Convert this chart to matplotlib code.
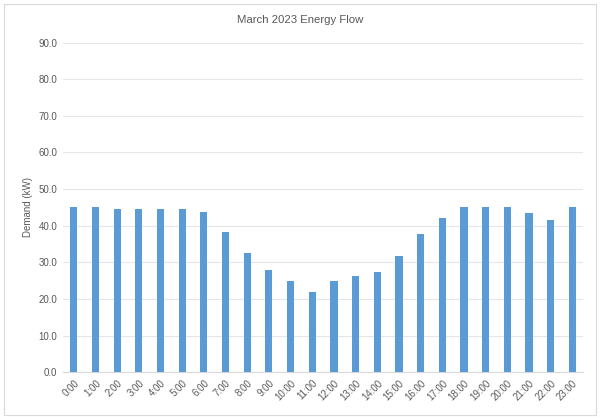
import matplotlib
matplotlib.use("Agg")
import matplotlib.pyplot as plt
from matplotlib.patches import Rectangle

hours = [f"{h}:00" for h in range(24)]
demand = [45.0, 45.0, 44.7, 44.7, 44.7, 44.7, 43.7, 38.3, 32.5, 28.0, 24.9, 21.9,
          24.9, 26.4, 27.4, 31.7, 37.7, 42.2, 45.2, 45.2, 45.2, 43.6, 41.6, 45.2]
yticks = [0, 10, 20, 30, 40, 50, 60, 70, 80, 90]

plt.rcParams['font.family'] = ['Liberation Sans', 'DejaVu Sans']
txt = '#595959'

fig = plt.figure(figsize=(6, 4.17), dpi=100)
fig.patches.append(Rectangle((0.007, 0.005), 0.986, 0.985, transform=fig.transFigure,
                             fill=False, edgecolor='#d9d9d9', linewidth=0.8))
ax = fig.add_axes([0.105, 0.107, 0.867, 0.791])
x = list(range(len(hours)))
ax.bar(x, demand, width=0.33, color='#5B9BD5', zorder=3)
ax.set_xlim(-0.5, len(hours) - 0.5)
ax.set_ylim(0, 90)
ax.set_yticks(yticks)
ax.set_yticklabels([f"{v:.1f}" for v in yticks], fontsize=7, color=txt)
ax.set_xticks(x)
ax.set_xticklabels(hours, rotation=45, ha='right', rotation_mode='anchor', fontsize=7, color=txt)
ax.grid(axis='y', color='#e6e6e6', linewidth=0.8, zorder=0)
for s in ['top', 'right', 'left']:
    ax.spines[s].set_visible(False)
ax.spines['bottom'].set_color('#d9d9d9')
ax.tick_params(axis='both', length=0, pad=4)
ax.set_ylabel('Demand (kW)', fontsize=7, color=txt, labelpad=4)
fig.text(0.5, 1 - 20 / 417, 'March 2023 Energy Flow', fontsize=8.2, color=txt,
         ha='center', va='center')
fig.savefig('out.png', dpi=100)
